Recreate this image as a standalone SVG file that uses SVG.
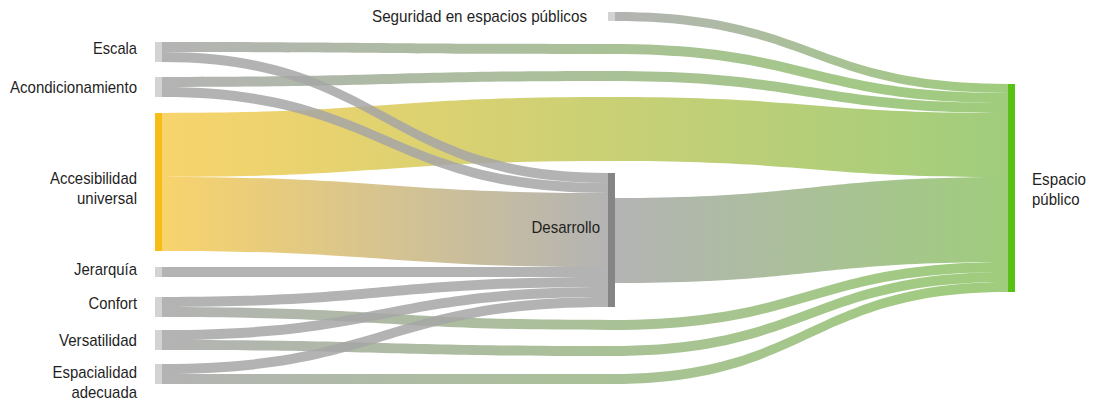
<svg xmlns="http://www.w3.org/2000/svg" width="1096" height="404" viewBox="0 0 1096 404">
<defs>
<linearGradient id="gGG" gradientUnits="userSpaceOnUse" x1="162" y1="0" x2="1008" y2="0"><stop offset="0" stop-color="#a6a6a6"/><stop offset="1" stop-color="#8fc466"/></linearGradient>
<linearGradient id="gMG" gradientUnits="userSpaceOnUse" x1="615" y1="0" x2="1008" y2="0"><stop offset="0" stop-color="#a6a6a6"/><stop offset="1" stop-color="#8fc466"/></linearGradient>
<linearGradient id="gYG" gradientUnits="userSpaceOnUse" x1="162" y1="0" x2="1008" y2="0"><stop offset="0" stop-color="#f7cc52"/><stop offset="1" stop-color="#8fc466"/></linearGradient>
<linearGradient id="gYD" gradientUnits="userSpaceOnUse" x1="162" y1="0" x2="608" y2="0"><stop offset="0" stop-color="#f7cc52"/><stop offset="1" stop-color="#a6a6a6"/></linearGradient>
<style>
.link{opacity:0.85}
.gray{fill:#a6a6a6}
.gg{fill:url(#gGG)}
.mg{fill:url(#gMG)}
.yg{fill:url(#gYG)}
.yd{fill:url(#gYD)}
.nl{fill:#d3d3d3}
.lbl{font-family:"Liberation Sans",Arial,sans-serif;font-size:17px;fill:#1f1f1f}
.end{text-anchor:end}
</style>
</defs>
<rect x="0" y="0" width="1096" height="404" fill="#ffffff"/>
<g id="connectors">
<path class="link yg" d="M162,113 C386.5,113 386.5,97 611,97 C809.5,97 809.5,113 1008,113 L1008,177 C809.5,177 809.5,161 611,161 C386.5,161 386.5,177 162,177 Z"/>
<path class="link yd" d="M162,177 C385,177 385,193 608,193 L608,267 C385,267 385,251 162,251 Z"/>
<path class="link mg" d="M615,198 C811.5,198 811.5,177 1008,177 L1008,262 C811.5,262 811.5,283 615,283 Z"/>
<path class="link gg" d="M162,42 C386.5,42 386.5,44 611,44 C809.5,44 809.5,93 1008,93 L1008,103 C809.5,103 809.5,54 611,54 C386.5,54 386.5,52 162,52 Z"/>
<path class="link gg" d="M162,77 C386.5,77 386.5,71 611,71 C809.5,71 809.5,103 1008,103 L1008,113 C809.5,113 809.5,81 611,81 C386.5,81 386.5,87 162,87 Z"/>
<path class="link gg" d="M162,307 C386.5,307 386.5,320 611,320 C809.5,320 809.5,262 1008,262 L1008,272 C809.5,272 809.5,330 611,330 C386.5,330 386.5,317 162,317 Z"/>
<path class="link gg" d="M162,340 C386.5,340 386.5,346 611,346 C809.5,346 809.5,272 1008,272 L1008,282 C809.5,282 809.5,356 611,356 C386.5,356 386.5,350 162,350 Z"/>
<path class="link gg" d="M162,374 L611,374 C809.5,374 809.5,282 1008,282 L1008,292 C809.5,292 809.5,384 611,384 L162,384 Z"/>
<path class="link mg" d="M615,12 C811.5,12 811.5,84 1008,84 L1008,93 C811.5,93 811.5,21 615,21 Z"/>
<path class="link gray" d="M162,52 C385,52 385,173 608,173 L608,183 C385,183 385,62 162,62 Z"/>
<path class="link gray" d="M162,87 C385,87 385,183 608,183 L608,193 C385,193 385,97 162,97 Z"/>
<path class="link gray" d="M162,267 L608,267 L608,277 L162,277 Z"/>
<path class="link gray" d="M162,297 C385,297 385,277 608,277 L608,287 C385,287 385,307 162,307 Z"/>
<path class="link gray" d="M162,330 C385,330 385,287 608,287 L608,297 C385,297 385,340 162,340 Z"/>
<path class="link gray" d="M162,364 C385,364 385,297 608,297 L608,307 C385,307 385,374 162,374 Z"/>
</g>
<g id="node-escala"><rect class="nl" x="155" y="42" width="7" height="20"/><text class="lbl end" x="137" y="54" textLength="44" lengthAdjust="spacingAndGlyphs">Escala</text></g>
<g id="node-acondicionamiento"><rect class="nl" x="155" y="77" width="7" height="20"/><text class="lbl end" x="137" y="93" textLength="127" lengthAdjust="spacingAndGlyphs">Acondicionamiento</text></g>
<g id="node-accesibilidad"><rect x="155" y="113" width="7" height="138" fill="#f6bd16"/><text class="lbl end" x="137" y="184" textLength="87" lengthAdjust="spacingAndGlyphs">Accesibilidad</text><text class="lbl end" x="137" y="204" textLength="60" lengthAdjust="spacingAndGlyphs">universal</text></g>
<g id="node-jerarquia"><rect class="nl" x="155" y="267" width="7" height="10"/><text class="lbl end" x="137" y="275" textLength="63" lengthAdjust="spacingAndGlyphs">Jerarquía</text></g>
<g id="node-confort"><rect class="nl" x="155" y="297" width="7" height="20"/><text class="lbl end" x="137" y="309" textLength="48.5" lengthAdjust="spacingAndGlyphs">Confort</text></g>
<g id="node-versatilidad"><rect class="nl" x="155" y="330" width="7" height="20"/><text class="lbl end" x="137" y="346" textLength="78" lengthAdjust="spacingAndGlyphs">Versatilidad</text></g>
<g id="node-espacialidad"><rect class="nl" x="155" y="364" width="7" height="20"/><text class="lbl end" x="137" y="378" textLength="84.5" lengthAdjust="spacingAndGlyphs">Espacialidad</text><text class="lbl end" x="137" y="398" textLength="65.5" lengthAdjust="spacingAndGlyphs">adecuada</text></g>
<g id="node-seguridad"><rect class="nl" x="608" y="12" width="7" height="9"/><text class="lbl end" x="587" y="22" textLength="215" lengthAdjust="spacingAndGlyphs">Seguridad en espacios públicos</text></g>
<g id="node-desarrollo"><rect x="608" y="173" width="7" height="134" fill="#858585"/><text class="lbl end" x="600" y="233" textLength="68.5" lengthAdjust="spacingAndGlyphs">Desarrollo</text></g>
<g id="node-espacio-publico"><rect x="1008" y="84" width="7" height="208" fill="#58c214"/><text class="lbl" x="1032" y="185" textLength="54" lengthAdjust="spacingAndGlyphs">Espacio</text><text class="lbl" x="1032" y="205" textLength="47.5" lengthAdjust="spacingAndGlyphs">público</text></g>
</svg>
